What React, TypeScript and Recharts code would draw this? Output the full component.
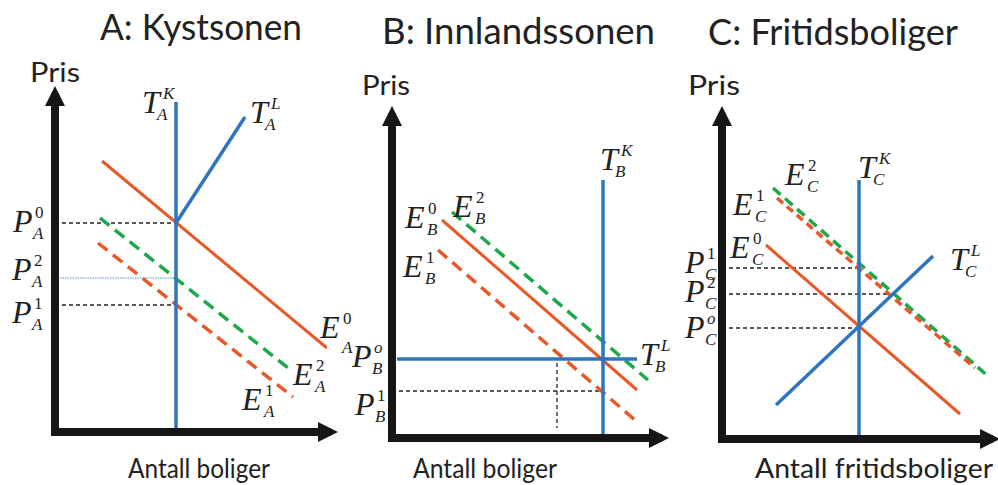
import React from "react";
import { ComposedChart, XAxis, YAxis, Line } from "recharts";

const ORANGE = "#e8592a";
const BLUE = "#2f74c1";
const GREEN = "#1ea84a";
const INK = "#161616";
const TEXT = "#222";

type Pt = { q: number; p: number };

// A: Kystsonen (q = antall boliger, p = pris)
const aMax = { q: 272, p: 335 };
const aSupplyK = [{ q: 121, p: 0 }, { q: 121, p: 330 }];
const aSupplyL = [{ q: 121, p: 209 }, { q: 190, p: 315 }];
const aDemand0 = [{ q: 47, p: 271 }, { q: 272, p: 84 }];
const aDemand2 = [{ q: 45, p: 214 }, { q: 238, p: 60 }];
const aDemand1 = [{ q: 43, p: 189 }, { q: 238, p: 35 }];
const aPrices = [209, 154, 127]; // P0, P2, P1
const aQuantity = 121;

// B: Innlandssonen
const bMax = { q: 266, p: 321 };
const bSupplyK = [{ q: 211, p: 0 }, { q: 211, p: 258 }];
const bSupplyL = [{ q: 5, p: 79 }, { q: 245, p: 79 }];
const bDemand0 = [{ q: 50, p: 218 }, { q: 245, p: 48 }];
const bDemand2 = [{ q: 60, p: 226 }, { q: 256, p: 58 }];
const bDemand1 = [{ q: 46, p: 188 }, { q: 243, p: 18 }];
const bPrice1 = 47;
const bQuantity1 = [{ q: 165, p: 75 }, { q: 165, p: 10 }];

// C: Fritidsboliger
const cMax = { q: 267, p: 322 };
const cSupplyK = [{ q: 137, p: 0 }, { q: 137, p: 259 }];
const cSupplyL = [{ q: 54, p: 34 }, { q: 211, p: 183 }];
const cDemand0 = [{ q: 44, p: 194 }, { q: 238, p: 25 }];
const cDemand2 = [{ q: 51, p: 251 }, { q: 267, p: 62 }];
const cDemand1 = [{ q: 55, p: 241 }, { q: 253, p: 71 }];
const cPrices = [{ p: 171, q: 137 }, { p: 145, q: 166 }, { p: 111, q: 137 }]; // P1, P2, Po

type Seg = { pts: Pt[]; stroke: string; width: number; dash?: string };

const guide = (pts: Pt[], stroke = TEXT, dash = "4 3", width = 1.3): Seg => ({ pts, stroke, width, dash });

const segsA: Seg[] = [
  guide([{ q: 0, p: aPrices[0] }, { q: aQuantity, p: aPrices[0] }]),
  guide([{ q: 0, p: aPrices[1] }, { q: aQuantity, p: aPrices[1] }], "#4a90d9", "1.5 1", 1),
  guide([{ q: 0, p: aPrices[2] }, { q: aQuantity, p: aPrices[2] }]),
  { pts: aDemand1, stroke: ORANGE, width: 3.5, dash: "12 7" },
  { pts: aDemand2, stroke: GREEN, width: 3.5, dash: "12 7" },
  { pts: aDemand0, stroke: ORANGE, width: 3 },
  { pts: aSupplyK, stroke: BLUE, width: 3.5 },
  { pts: aSupplyL, stroke: BLUE, width: 3.5 },
];

const segsB: Seg[] = [
  guide([{ q: 0, p: bPrice1 }, { q: bSupplyK[0].q, p: bPrice1 }]),
  guide(bQuantity1),
  { pts: bDemand1, stroke: ORANGE, width: 3.5, dash: "12 7" },
  { pts: bDemand2, stroke: GREEN, width: 3.5, dash: "12 7" },
  { pts: bDemand0, stroke: ORANGE, width: 3 },
  { pts: bSupplyK, stroke: BLUE, width: 3.5 },
  { pts: bSupplyL, stroke: BLUE, width: 3.5 },
];

const segsC: Seg[] = [
  ...cPrices.map((c) => guide([{ q: 0, p: c.p }, { q: c.q, p: c.p }])),
  { pts: cDemand0, stroke: ORANGE, width: 3 },
  { pts: cDemand2, stroke: GREEN, width: 3.5, dash: "10 6" },
  { pts: cDemand1, stroke: ORANGE, width: 3.5, dash: "8 5" },
  { pts: cSupplyK, stroke: BLUE, width: 3.5 },
  { pts: cSupplyL, stroke: BLUE, width: 3.5 },
];

const PAD = 24;

function Panel({ id, left, top, max, segs }: { id: string; left: number; top: number; max: Pt; segs: Seg[] }) {
  const w = max.q;
  const h = max.p;
  const axisLine = { stroke: INK, strokeWidth: 8, strokeLinecap: "square" as const };
  return (
    <div style={{ position: "absolute", left: left - PAD, top: top - PAD }}>
      <ComposedChart
        width={w + PAD * 2}
        height={h + PAD * 2}
        margin={{ top: PAD, right: PAD, bottom: PAD - 1, left: PAD - 1 }}
      >
        <defs>
          <marker
            id={`arrow-${id}`}
            viewBox="0 0 20 20"
            refX={9}
            refY={10}
            markerWidth={20}
            markerHeight={20}
            markerUnits="userSpaceOnUse"
            orient="auto-start-reverse"
          >
            <path d="M0,0 L20,10 L0,20 Z" fill={INK} />
          </marker>
        </defs>
        <XAxis
          type="number"
          dataKey="q"
          domain={[0, max.q]}
          allowDataOverflow
          height={1}
          tick={false}
          tickLine={false}
          axisLine={{ ...axisLine, markerEnd: `url(#arrow-${id})` }}
        />
        <YAxis
          type="number"
          domain={[0, max.p]}
          allowDataOverflow
          width={1}
          tick={false}
          tickLine={false}
          axisLine={{ ...axisLine, markerStart: `url(#arrow-${id})` }}
        />
        {segs.map((s, i) => (
          <Line
            key={i}
            data={s.pts}
            dataKey="p"
            type="linear"
            stroke={s.stroke}
            strokeWidth={s.width}
            strokeDasharray={s.dash}
            dot={false}
            activeDot={false}
            isAnimationActive={false}
          />
        ))}
      </ComposedChart>
    </div>
  );
}

const OFFS: Record<string, { sup: number; sub: number }> = {
  T: { sup: 21, sub: 15 },
  P: { sup: 22, sub: 20 },
  E: { sup: 23, sub: 22 },
};

// math labels: letter, superscript, subscript, left, baseline
const LABELS: { b: string; sup: string; sub: string; x: number; y: number; subDy?: number }[] = [
  { b: "T", sup: "K", sub: "A", x: 142, y: 113 },
  { b: "T", sup: "L", sub: "A", x: 250, y: 123 },
  { b: "P", sup: "0", sub: "A", x: 13, y: 232 },
  { b: "P", sup: "2", sub: "A", x: 12, y: 280 },
  { b: "P", sup: "1", sub: "A", x: 12, y: 323 },
  { b: "E", sup: "0", sub: "A", x: 320, y: 338, subDy: 15 },
  { b: "E", sup: "2", sub: "A", x: 293, y: 385 },
  { b: "E", sup: "1", sub: "A", x: 242, y: 410 },
  { b: "T", sup: "K", sub: "B", x: 600, y: 170 },
  { b: "T", sup: "L", sub: "B", x: 640, y: 365 },
  { b: "E", sup: "0", sub: "B", x: 405, y: 228 },
  { b: "E", sup: "2", sub: "B", x: 453, y: 217 },
  { b: "E", sup: "1", sub: "B", x: 403, y: 277 },
  { b: "P", sup: "o", sub: "B", x: 352, y: 367 },
  { b: "P", sup: "1", sub: "B", x: 355, y: 415 },
  { b: "T", sup: "K", sub: "C", x: 858, y: 178 },
  { b: "T", sup: "L", sub: "C", x: 950, y: 270 },
  { b: "E", sup: "2", sub: "C", x: 785, y: 185 },
  { b: "E", sup: "1", sub: "C", x: 733, y: 215 },
  { b: "E", sup: "0", sub: "C", x: 730, y: 258 },
  { b: "P", sup: "1", sub: "C", x: 685, y: 273 },
  { b: "P", sup: "2", sub: "C", x: 685, y: 302 },
  { b: "P", sup: "o", sub: "C", x: 685, y: 338 },
];

const WORDS: { t: string; x: number; y: number; len: number; size: number }[] = [
  { t: "A: Kystsonen", x: 100, y: 40, len: 202, size: 37 },
  { t: "B: Innlandssonen", x: 382, y: 44, len: 273, size: 37 },
  { t: "C: Fritidsboliger", x: 708, y: 45, len: 250, size: 37 },
  { t: "Pris", x: 30, y: 82, len: 50, size: 27 },
  { t: "Pris", x: 362, y: 95, len: 48, size: 27 },
  { t: "Pris", x: 688, y: 95, len: 52, size: 27 },
  { t: "Antall boliger", x: 128, y: 478, len: 142, size: 27 },
  { t: "Antall boliger", x: 413, y: 478, len: 144, size: 27 },
  { t: "Antall fritidsboliger", x: 755, y: 478, len: 238, size: 27 },
];

const serif = "'Liberation Serif', 'Times New Roman', serif";

export default function App() {
  return (
    <div style={{ position: "absolute", left: 0, top: 0, width: 998, height: 485, background: "#fff", overflow: "hidden" }}>
      <Panel id="a" left={55} top={97} max={aMax} segs={segsA} />
      <Panel id="b" left={392} top={117} max={bMax} segs={segsB} />
      <Panel id="c" left={722} top={117} max={cMax} segs={segsC} />
      <svg width={998} height={485} style={{ position: "absolute", left: 0, top: 0, pointerEvents: "none" }}>
        {WORDS.map((w, i) => (
          <text
            key={i}
            x={w.x}
            y={w.y}
            fontFamily="Lato, 'Open Sans', sans-serif"
            fontSize={w.size}
            fill={TEXT}
            textLength={w.len}
            lengthAdjust="spacingAndGlyphs"
          >
            {w.t}
          </text>
        ))}
        {LABELS.map((l, i) => {
          const o = OFFS[l.b];
          const supItalic = /[A-Za-z]/.test(l.sup);
          return (
            <g key={i} fill={TEXT} fontFamily={serif}>
              <text x={l.x} y={l.y} fontSize={32} fontStyle="italic">
                {l.b}
              </text>
              <text x={l.x + o.sup} y={l.y - 14} fontSize={17} fontStyle={supItalic ? "italic" : "normal"}>
                {l.sup}
              </text>
              <text x={l.x + o.sub} y={l.y + (l.subDy ?? 7)} fontSize={17} fontStyle="italic">
                {l.sub}
              </text>
            </g>
          );
        })}
      </svg>
    </div>
  );
}
